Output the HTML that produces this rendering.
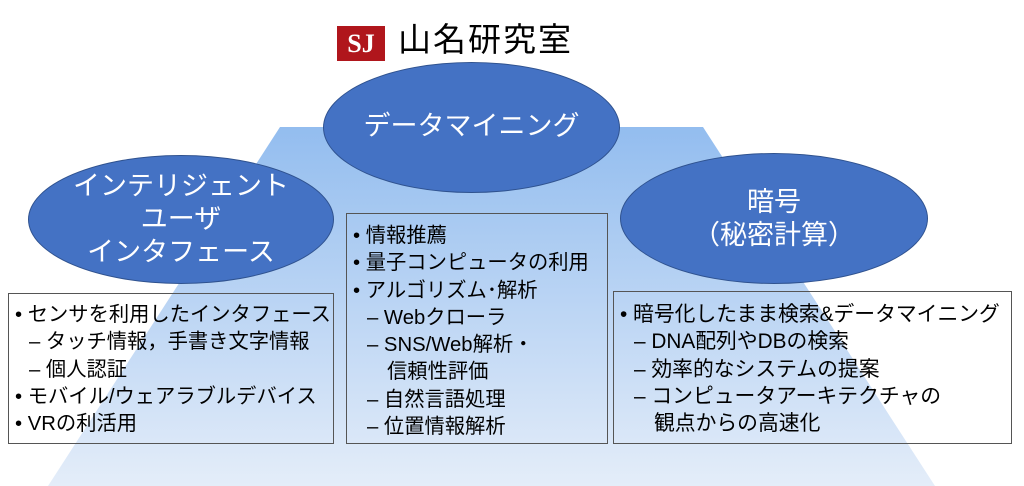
<!DOCTYPE html>
<html><head><meta charset="utf-8"><style>
body{margin:0;width:1024px;height:486px;overflow:hidden;background:#fff;position:relative;font-family:"Liberation Sans","Noto Sans CJK JP",sans-serif}
.a{position:absolute}
.el{position:absolute;background:#4472c4;border:1.5px solid #2f528f;border-radius:50%;color:#fff;display:flex;align-items:center;justify-content:center;text-align:center;font-size:27px;line-height:33px;box-sizing:border-box}
.bx{position:absolute;border:1.3px solid #555;box-sizing:border-box;font-size:20.3px;line-height:27.3px;color:#000;padding:8px 0 0 6px;white-space:nowrap}
.i1{padding-left:14px}
</style></head><body>
<svg class="a" style="left:0;top:0" width="1024" height="486">
<defs><linearGradient id="g" x1="0" y1="0" x2="0" y2="1"><stop offset="0" stop-color="#93bdef"/><stop offset="1" stop-color="#e4edf9"/></linearGradient></defs>
<polygon points="280,127 703,127 935,486 48,486" fill="url(#g)"/>
</svg>
<div class="a" style="left:337px;top:26px;width:48px;height:35px;background:#b0161c;color:#fff;font:bold 26px/35px 'Liberation Serif',serif;text-align:center">SJ</div>
<div class="a" style="left:398px;top:18px;font-size:33px;line-height:44px;letter-spacing:2px">山名研究室</div>
<div class="el" style="left:323px;top:62px;width:297px;height:131px;padding-bottom:2px">データマイニング</div>
<div class="el" style="left:28px;top:155px;width:306px;height:129px">インテリジェント<br>ユーザ<br>インタフェース</div>
<div class="el" style="left:620px;top:153px;width:308px;height:131px">暗号<br>（秘密計算）</div>
<div class="bx" style="left:8px;top:293px;width:326px;height:151px">• センサを利用したインタフェース<br><span class="i1">– タッチ情報，手書き文字情報</span><br><span class="i1">– 個人認証</span><br>• モバイル/ウェアラブルデバイス<br>• VRの利活用</div>
<div class="bx" style="left:346px;top:213px;width:262px;height:231px;padding-top:9px">• 情報推薦<br>• 量子コンピュータの利用<br>• アルゴリズム･解析<br><span class="i1">– Webクローラ</span><br><span class="i1">– SNS/Web解析・</span><br><span style="padding-left:34px">信頼性評価</span><br><span class="i1">– 自然言語処理</span><br><span class="i1">– 位置情報解析</span></div>
<div class="bx" style="left:613px;top:291px;width:399px;height:153px;padding-top:9px;font-size:20.8px">• 暗号化したまま検索&amp;データマイニング<br><span class="i1">– DNA配列やDBの検索</span><br><span class="i1">– 効率的なシステムの提案</span><br><span class="i1">– コンピュータアーキテクチャの</span><br><span style="padding-left:34px">観点からの高速化</span></div>
</body></html>
